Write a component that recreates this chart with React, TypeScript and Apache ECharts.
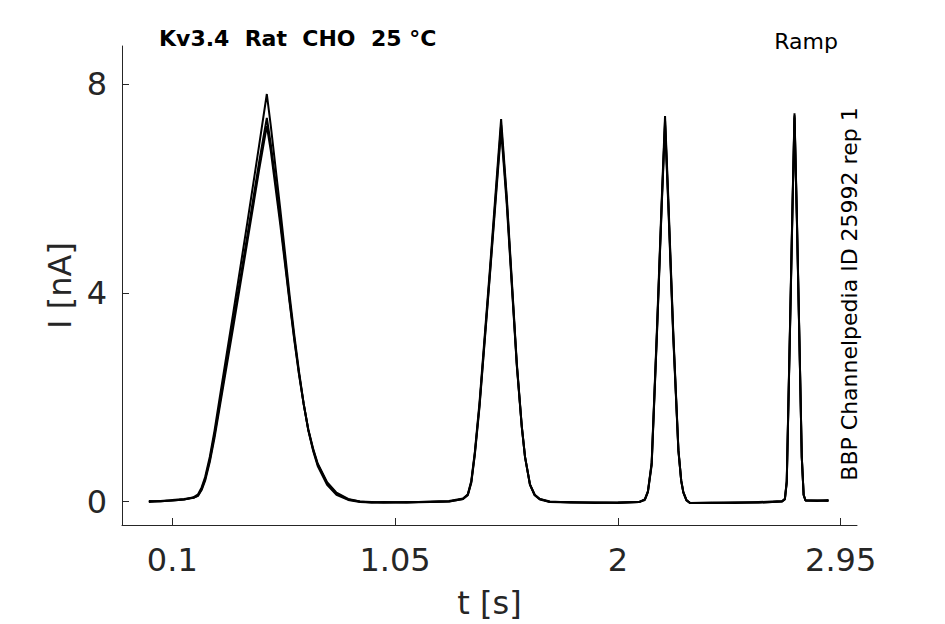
import React, { useEffect, useRef } from "react";
import * as echarts from "echarts";

// Shared time axis (s)
const T = [
  // baseline
  0, 0.05, 0.1, 0.15, 0.19,
  // ramp 1 up / down
  0.21, 0.225, 0.24, 0.26, 0.28, 0.3, 0.36, 0.42, 0.47, 0.503,
  0.52, 0.56, 0.6, 0.62, 0.64, 0.66, 0.68, 0.7, 0.72, 0.76, 0.8, 0.85, 0.9,
  // baseline
  0.95, 1.0, 1.1, 1.2, 1.28, 1.34,
  // ramp 2
  1.36, 1.375, 1.39, 1.41, 1.455, 1.502, 1.526, 1.569, 1.59, 1.604, 1.625, 1.645, 1.667, 1.71,
  // baseline
  1.8, 1.9, 2.0, 2.09,
  // ramp 3
  2.115, 2.128, 2.144, 2.166, 2.187, 2.201, 2.215, 2.236, 2.258, 2.27, 2.279, 2.292, 2.308,
  // baseline
  2.4, 2.5, 2.6, 2.7,
  // ramp 4
  2.712, 2.72, 2.734, 2.744, 2.753, 2.763, 2.774, 2.784, 2.792, 2.8,
  // baseline end
  2.85, 2.898,
];

// Current traces (nA)
const I1 = [
  0.0, 0.01, 0.02, 0.04, 0.08,
  0.14, 0.27, 0.47, 0.86, 1.36, 1.93, 3.62, 5.35, 6.82, 7.81,
  7.2, 5.62, 3.96, 3.2, 2.5, 1.88, 1.36, 0.98, 0.68, 0.32, 0.13, 0.03, -0.01,
  -0.02, -0.02, -0.01, -0.01, 0.0, 0.05,
  0.14, 0.4, 0.95, 1.9, 4.5, 7.33, 5.85, 2.65, 1.45, 0.85, 0.32, 0.12, 0.04, -0.01,
  -0.02, -0.02, -0.02, -0.01,
  0.04, 0.2, 0.75, 3.25, 5.8, 7.39, 5.8, 3.25, 1.0, 0.4, 0.18, 0.03, -0.03,
  -0.03, -0.02, -0.02, 0.0,
  0.05, 0.4, 3.4, 5.6, 7.44, 5.5, 3.1, 0.85, 0.12, 0.02,
  0.02, 0.02,
];
const I2 = [
  0.01, 0.0, 0.03, 0.05, 0.07,
  0.12, 0.24, 0.43, 0.8, 1.28, 1.82, 3.45, 5.1, 6.5, 7.35,
  6.85, 5.42, 3.86, 3.13, 2.46, 1.87, 1.37, 1.0, 0.71, 0.35, 0.15, 0.04, 0.0,
  -0.01, -0.02, -0.02, 0.0, 0.01, 0.06,
  0.13, 0.38, 0.92, 1.85, 4.42, 7.22, 5.78, 2.62, 1.45, 0.86, 0.33, 0.13, 0.05, -0.01,
  -0.01, -0.03, -0.02, -0.01,
  0.04, 0.19, 0.72, 3.18, 5.72, 7.3, 5.72, 3.2, 0.98, 0.4, 0.18, 0.03, -0.03,
  -0.02, -0.03, -0.01, 0.01,
  0.05, 0.38, 3.35, 5.55, 7.4, 5.46, 3.08, 0.86, 0.13, 0.02,
  0.01, 0.03,
];
const I3 = [
  -0.01, 0.01, 0.02, 0.04, 0.07,
  0.11, 0.22, 0.4, 0.76, 1.22, 1.75, 3.35, 4.98, 6.35, 7.2,
  6.72, 5.32, 3.82, 3.1, 2.44, 1.87, 1.38, 1.02, 0.73, 0.37, 0.17, 0.05, 0.0,
  -0.02, -0.01, -0.02, -0.01, 0.0, 0.05,
  0.12, 0.36, 0.9, 1.82, 4.38, 7.12, 5.7, 2.6, 1.43, 0.85, 0.33, 0.13, 0.05, 0.0,
  -0.02, -0.02, -0.03, -0.01,
  0.03, 0.18, 0.7, 3.15, 5.68, 7.22, 5.66, 3.15, 0.97, 0.39, 0.17, 0.02, -0.03,
  -0.03, -0.02, -0.02, 0.0,
  0.04, 0.36, 3.3, 5.5, 7.36, 5.42, 3.05, 0.85, 0.13, 0.02,
  0.02, 0.01,
];

const TRACES = [I1, I2, I3];

const X_TICKS = [0.1, 1.05, 2, 2.95];
const X_TICK_LABELS = ["0.1", "1.05", "2", "2.95"];
const Y_TICKS = [0, 4, 8];
const Y_TICK_LABELS = ["0", "4", "8"];

const TITLE = "Kv3.4  Rat  CHO  25 °C";
const PROTOCOL = "Ramp";
const SOURCE = "BBP Channelpedia ID 25992 rep 1";

const FONT = "DejaVu Sans";
const AXIS_COLOR = "#262626";

export default function App() {
  const ref = useRef<HTMLDivElement>(null);

  useEffect(() => {
    if (!ref.current) return;
    const chart = echarts.init(ref.current, undefined, { renderer: "svg" });

    const labelFor = (ticks: number[], labels: string[]) => (v: number) => {
      const i = ticks.findIndex((t) => Math.abs(t - v) < 1e-9);
      return i >= 0 ? labels[i] : "";
    };

    const option = {
      animation: false,
      backgroundColor: "#ffffff",
      grid: { left: 122, right: 88, top: 46, bottom: 98, containLabel: false },
      xAxis: {
        type: "value",
        min: -0.1145,
        max: 3.0195,
        axisLine: { show: true, onZero: false, lineStyle: { color: AXIS_COLOR, width: 1 } },
        axisTick: {
          show: true,
          inside: true,
          length: 7,
          customValues: X_TICKS,
          lineStyle: { color: AXIS_COLOR, width: 1 },
        },
        axisLabel: {
          customValues: X_TICKS,
          formatter: labelFor(X_TICKS, X_TICK_LABELS),
          fontSize: 32,
          fontFamily: FONT,
          color: AXIS_COLOR,
          margin: 19,
        },
        splitLine: { show: false },
        name: "t [s]",
        nameLocation: "middle",
        nameGap: 62,
        nameTextStyle: { fontSize: 32, fontFamily: FONT, color: AXIS_COLOR },
      },
      yAxis: {
        type: "value",
        min: -0.45,
        max: 8.73,
        axisLine: { show: true, onZero: false, lineStyle: { color: AXIS_COLOR, width: 1 } },
        axisTick: {
          show: true,
          inside: true,
          length: 7,
          customValues: Y_TICKS,
          lineStyle: { color: AXIS_COLOR, width: 1 },
        },
        axisLabel: {
          customValues: Y_TICKS,
          formatter: labelFor(Y_TICKS, Y_TICK_LABELS),
          fontSize: 32,
          fontFamily: FONT,
          color: AXIS_COLOR,
          margin: 15,
        },
        splitLine: { show: false },
        name: "I [nA]",
        nameLocation: "middle",
        nameGap: 45,
        nameTextStyle: { fontSize: 32, fontFamily: FONT, color: AXIS_COLOR },
      },
      series: TRACES.map((tr, k) => ({
        type: "line",
        name: "trace " + (k + 1),
        data: T.map((t, i) => [t, tr[i]]),
        showSymbol: false,
        symbol: "none",
        smooth: false,
        lineStyle: { color: "#000000", width: 2 },
        silent: true,
      })),
      graphic: [
        {
          type: "text",
          left: 159,
          top: 27,
          style: {
            text: TITLE,
            font: `bold 22px "${FONT}"`,
            fill: "#000000",
          },
        },
        {
          type: "text",
          right: 945 - 838,
          top: 30,
          style: {
            text: PROTOCOL,
            font: `22px "${FONT}"`,
            fill: "#000000",
          },
        },
        {
          type: "text",
          x: 849,
          y: 294,
          rotation: Math.PI / 2,
          style: {
            text: SOURCE,
            font: `22px "${FONT}"`,
            fill: "#000000",
            textAlign: "center",
            textVerticalAlign: "middle",
          },
        },
      ],
    };

    chart.setOption(option as any);
    return () => chart.dispose();
  }, []);

  return (
    <div
      ref={ref}
      style={{ position: "fixed", left: 0, top: 0, width: 945, height: 624, background: "#fff" }}
    />
  );
}
